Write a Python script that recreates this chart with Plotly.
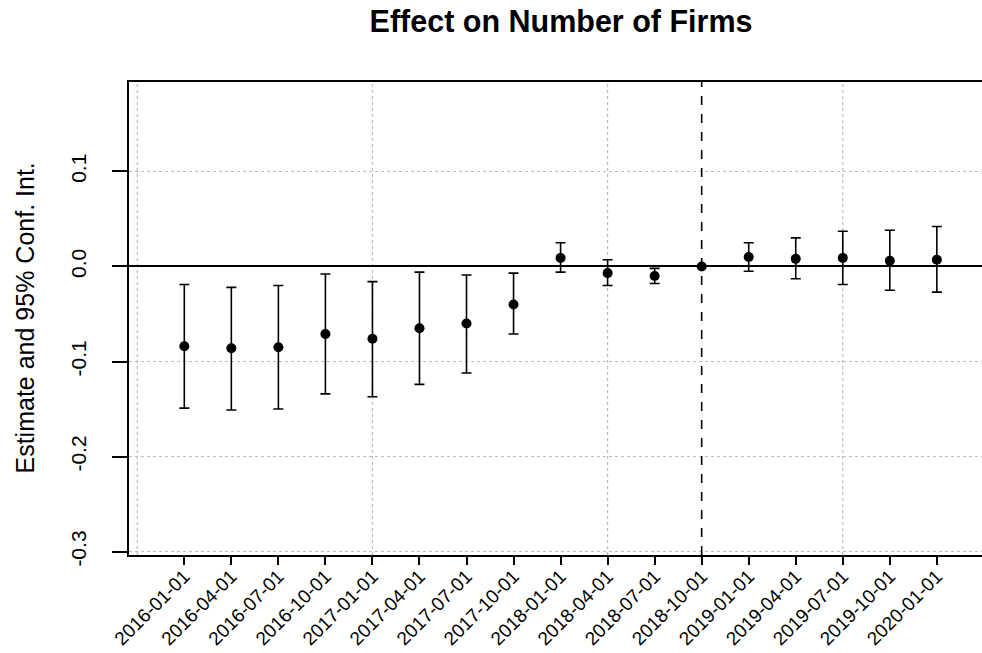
import plotly.graph_objects as go

periods = ["2016-01-01", "2016-04-01", "2016-07-01", "2016-10-01", "2017-01-01",
           "2017-04-01", "2017-07-01", "2017-10-01", "2018-01-01", "2018-04-01",
           "2018-07-01", "2018-10-01", "2019-01-01", "2019-04-01", "2019-07-01",
           "2019-10-01", "2020-01-01"]
estimate = [-0.084, -0.086, -0.085, -0.071, -0.076, -0.065, -0.060, -0.040, 0.009,
            -0.007, -0.010, 0.0, 0.010, 0.008, 0.009, 0.006, 0.007]
ci_low = [-0.149, -0.151, -0.150, -0.134, -0.137, -0.124, -0.112, -0.071, -0.006,
          -0.020, -0.018, None, -0.005, -0.013, -0.019, -0.025, -0.027]
ci_high = [-0.019, -0.022, -0.020, -0.008, -0.016, -0.006, -0.009, -0.007, 0.025,
           0.007, -0.002, None, 0.025, 0.030, 0.037, 0.038, 0.042]
ref_period = "2018-10-01"
y_ticks = [0.1, 0.0, -0.1, -0.2, -0.3]
y_tick_labels = ["0.1", "0.0", "-0.1", "-0.2", "-0.3"]
x_grid_positions = [-1, 4, 9, 14]

xpos = list(range(len(periods)))
err_plus = [None if h is None else h - e for h, e in zip(ci_high, estimate)]
err_minus = [None if l is None else e - l for l, e in zip(ci_low, estimate)]

FONT = "Liberation Sans, Arial, Helvetica, sans-serif"

fig = go.Figure()
fig.add_trace(go.Scatter(
    x=xpos, y=estimate, mode="markers",
    marker=dict(color="black", size=10),
    error_y=dict(type="data", symmetric=False, array=err_plus, arrayminus=err_minus,
                 color="black", thickness=1.6, width=5),
    showlegend=False, hoverinfo="skip",
))

shapes = []
for gx in x_grid_positions:
    shapes.append(dict(type="line", xref="x", yref="paper", x0=gx, x1=gx, y0=0, y1=1,
                       line=dict(color="#bdbdbd", width=1.2, dash="dot"), layer="below"))
ref_idx = periods.index(ref_period)
shapes.append(dict(type="line", xref="x", yref="paper", x0=ref_idx, x1=ref_idx, y0=0, y1=1,
                   line=dict(color="black", width=1.6, dash="dash")))

fig.update_layout(
    width=982, height=653,
    margin=dict(l=129, r=0, t=82, b=98),
    paper_bgcolor="white", plot_bgcolor="white",
    font=dict(family=FONT, color="black"),
    title=dict(text="Effect on Number of Firms", x=0.5065, xref="paper", xanchor="center",
               y=1 - 21 / 653, yref="container", yanchor="middle",
               font=dict(family=FONT, size=30.5, color="black", weight="bold")),
    shapes=shapes,
    annotations=[dict(text="Estimate and 95% Conf. Int.", xref="paper", yref="paper",
                      x=(24 - 129) / 853, y=0.5, textangle=-90, showarrow=False,
                      xanchor="center", yanchor="middle", font=dict(size=25, color="black"))],
    xaxis=dict(range=[-1.176, 16.96], tickmode="array", tickvals=xpos, ticktext=periods,
               tickangle=-45, tickfont=dict(size=19), ticks="outside", ticklen=8,
               tickwidth=1.5, tickcolor="black", showgrid=False, zeroline=False,
               ticklabelstandoff=-7,
               showline=True, linecolor="black", linewidth=1.5, mirror=True,
               automargin=False),
    yaxis=dict(range=[-0.3035, 0.194], tickmode="array", tickvals=y_ticks,
               ticktext=y_tick_labels, tickangle=-90, tickfont=dict(size=21),
               ticks="outside", ticklen=15, tickwidth=1.5, tickcolor="black",
               ticklabelstandoff=18,
               showgrid=True, gridcolor="#bdbdbd", griddash="dot", gridwidth=1.2,
               zeroline=True, zerolinecolor="black", zerolinewidth=1.5,
               showline=True, linecolor="black", linewidth=1.5, mirror=False,
               automargin=False),
)

fig.write_html("out.html", config={"displayModeBar": False},
               post_script="document.body.style.margin='0';")
